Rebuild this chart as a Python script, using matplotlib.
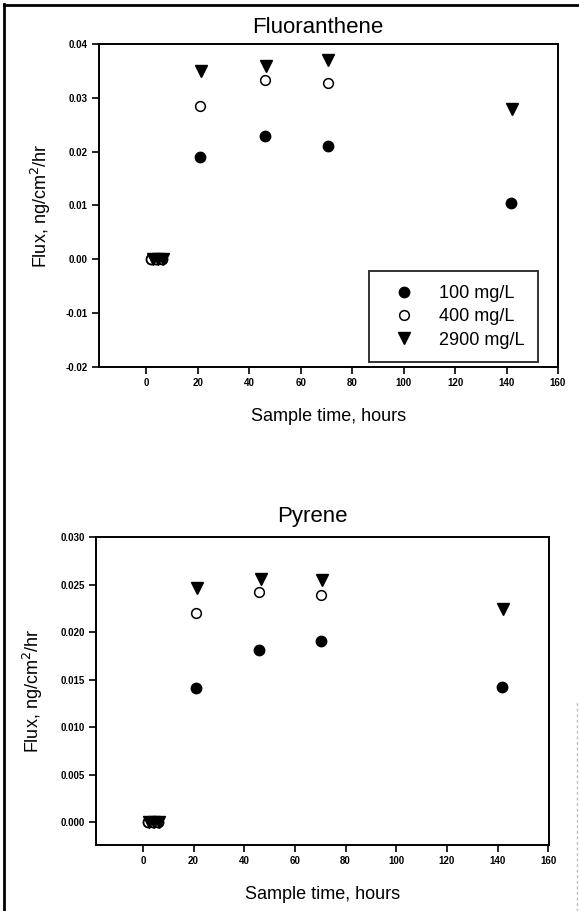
import matplotlib
matplotlib.use("Agg")
import matplotlib.pyplot as plt
from matplotlib.lines import Line2D
from matplotlib.ticker import FormatStrFormatter

plt.rcParams['font.family'] = ['Liberation Sans', 'DejaVu Sans']

# ---------------- data ----------------
series_labels = ["100 mg/L", "400 mg/L", "2900 mg/L"]

# Fluoranthene
fl_t_100 = [2, 4, 6, 21, 46, 70.5, 141.8]
fl_v_100 = [0.0, 0.0, 0.0, 0.0190, 0.0230, 0.0210, 0.0104]
fl_t_400 = [2, 4, 6, 21, 46, 70.5]
fl_v_400 = [0.0, 0.0, 0.0, 0.0284, 0.0334, 0.0327]
fl_t_2900 = [2.5, 4.5, 6.5, 21.5, 46.7, 70.8, 142.3]
fl_v_2900 = [0.0, 0.0, 0.0, 0.0350, 0.0359, 0.0370, 0.0280]

# Pyrene
py_t_100 = [2, 4, 6, 21, 46, 70.5, 141.8]
py_v_100 = [0.0, 0.0, 0.0, 0.0141, 0.0181, 0.0191, 0.0142]
py_t_400 = [2, 4, 6, 21, 46, 70.5]
py_v_400 = [0.0, 0.0, 0.0, 0.0220, 0.0242, 0.0239]
py_t_2900 = [2.5, 4.5, 6.5, 21.5, 46.7, 70.8, 142.3]
py_v_2900 = [0.0, 0.0, 0.0, 0.0246, 0.0256, 0.0255, 0.0224]

x_ticks = [0, 20, 40, 60, 80, 100, 120, 140, 160]
fl_y_ticks = [-0.02, -0.01, 0.00, 0.01, 0.02, 0.03, 0.04]
py_y_ticks = [0.000, 0.005, 0.010, 0.015, 0.020, 0.025, 0.030]

W, H = 579, 911
fig = plt.figure(figsize=(W / 100, H / 100), dpi=100)


def px_axes(left, top, right, bottom):
    return fig.add_axes([left / W, 1 - bottom / H, (right - left) / W, (bottom - top) / H])


def style(ax, title, yfmt, title_pad, title_x, ylabelpad):
    for s in ("left", "bottom", "top", "right"):
        ax.spines[s].set_linewidth(1.4)
        ax.spines[s].set_color("black")
    ax.tick_params(direction="out", length=5, width=1.2, top=False, right=False,
                   labelsize=7, pad=3)
    for lab in ax.get_xticklabels() + ax.get_yticklabels():
        lab.set_fontweight("bold")
    ax.yaxis.set_major_formatter(FormatStrFormatter(yfmt))
    ax.set_title(title, fontsize=16, pad=title_pad, x=title_x)
    ax.set_xlabel("Sample time, hours", fontsize=13, labelpad=14)
    ax.set_ylabel("Flux, ng/cm$^2$/hr", fontsize=13, labelpad=ylabelpad)


def plot_series(ax, t1, v1, t2, v2, t3, v3):
    ax.plot(t1, v1, linestyle="none", marker="o", markersize=7.5, color="black",
            markeredgecolor="black", label=series_labels[0], zorder=3)
    ax.plot(t2, v2, linestyle="none", marker="o", markersize=7, markerfacecolor="white",
            markeredgecolor="black", markeredgewidth=1.1, label=series_labels[1], zorder=3)
    ax.plot(t3, v3, linestyle="none", marker="v", markersize=8.5, color="black",
            markeredgecolor="black", label=series_labels[2], zorder=3)


# ---------------- top: Fluoranthene ----------------
ax1 = px_axes(99, 44, 558, 367)
plot_series(ax1, fl_t_100, fl_v_100, fl_t_400, fl_v_400, fl_t_2900, fl_v_2900)
ax1.set_xlim(-18.3, 160)
ax1.set_ylim(-0.02, 0.04)
ax1.set_xticks(x_ticks)
ax1.set_yticks(fl_y_ticks)
style(ax1, "Fluoranthene", "%.2f", 8, 0.476, 9)
leg = ax1.legend(loc="lower right", bbox_to_anchor=(0.956, 0.015), fontsize=13,
                 frameon=True, fancybox=False, edgecolor="black", borderpad=0.75,
                 handletextpad=0.7, labelspacing=0.35, handlelength=2.4,
                 borderaxespad=0)
leg.get_frame().set_linewidth(1.4)

# ---------------- bottom: Pyrene ----------------
ax2 = px_axes(96, 537, 549, 845)
plot_series(ax2, py_t_100, py_v_100, py_t_400, py_v_400, py_t_2900, py_v_2900)
ax2.set_xlim(-18.5, 160.3)
ax2.set_ylim(-0.0024, 0.030)
ax2.set_xticks(x_ticks)
ax2.set_yticks(py_y_ticks)
style(ax2, "Pyrene", "%.3f", 11, 0.477, 11)

# ---------------- figure border ----------------
fig.add_artist(Line2D([4 / W, 4 / W], [0, 1 - 4 / H], transform=fig.transFigure,
                      color="black", linewidth=2))
fig.add_artist(Line2D([4 / W, 1], [1 - 5 / H, 1 - 5 / H], transform=fig.transFigure,
                      color="black", linewidth=2))
fig.add_artist(Line2D([1 - 2 / W, 1 - 2 / W], [0, 1 - 700 / H], transform=fig.transFigure,
                      color="#bbbbbb", linewidth=1, linestyle=(0, (2, 2))))

fig.savefig("out.png", dpi=100)
